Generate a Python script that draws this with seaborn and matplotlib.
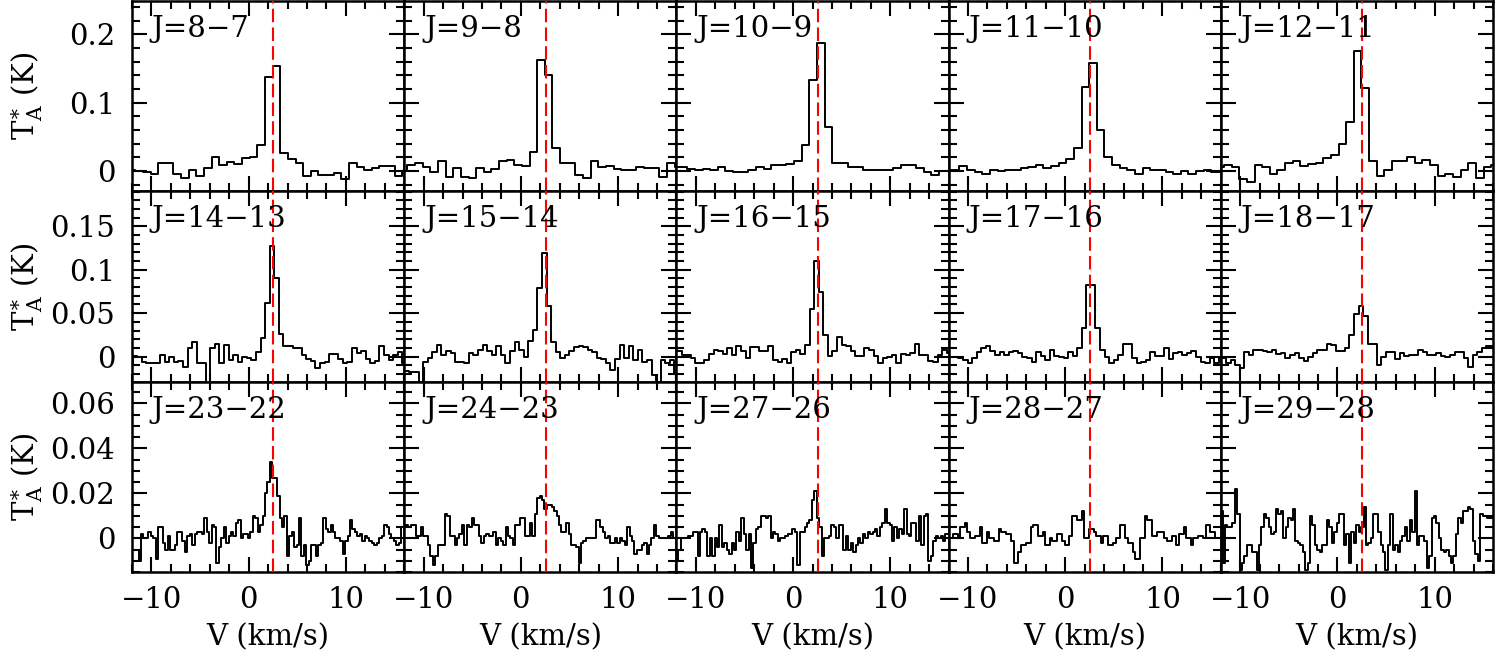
import numpy as np
import matplotlib
matplotlib.use("Agg")
import matplotlib.pyplot as plt
import seaborn as sns
from matplotlib.ticker import FixedLocator, MultipleLocator, FuncFormatter

# transition labels, one per panel (row by row)
labels = ["J=8\u22127", "J=9\u22128", "J=10\u22129", "J=11\u221210", "J=12\u221211",
          "J=14\u221213", "J=15\u221214", "J=16\u221215", "J=17\u221216", "J=18\u221217",
          "J=23\u221222", "J=24\u221223", "J=27\u221226", "J=28\u221227", "J=29\u221228"]

v_lsr = 2.55

# channel grid per row: first channel edge (km/s) and channel width
row_v0 = [-12.45, -12.40, -12.32]
row_dv = [0.785, 0.47, 0.25]

# T_A* (K) per channel
j8_7 = [0.001, 0.000, -0.001, -0.004, 0.011, 0.011, -0.004, -0.010, 0.002, -0.007,
        0.004, 0.020, 0.009, 0.013, 0.010, 0.019, 0.021, 0.038, 0.138, 0.153,
        0.026, 0.017, 0.012, -0.007, 0.000, -0.006, -0.006, -0.003, -0.012, 0.011,
        0.005, 0.001, 0.004, 0.007, 0.007, -0.007, 0.000]
j9_8 = [0.000, 0.009, 0.011, 0.005, -0.002, 0.014, -0.009, 0.004, -0.009, -0.010,
        0.004, -0.002, 0.003, 0.015, 0.016, 0.009, 0.007, 0.028, 0.162, 0.140,
        0.033, 0.012, 0.012, -0.006, -0.010, 0.015, 0.006, 0.007, 0.003, 0.002,
        0.002, 0.006, 0.004, 0.004, -0.009, 0.012, 0.006]
j10_9 = [0.006, 0.005, 0.003, 0.002, 0.003, 0.002, 0.005, 0.000, -0.001, -0.001,
         0.001, 0.005, 0.003, 0.009, 0.009, 0.010, 0.015, 0.038, 0.133, 0.187,
         0.065, 0.012, 0.011, 0.006, 0.005, 0.002, 0.002, 0.002, 0.002, 0.004,
         0.009, 0.009, 0.004, -0.001, -0.006, 0.000, 0.000]
j11_10 = [0.001, 0.002, 0.007, 0.002, -0.002, -0.004, 0.002, 0.000, 0.002, 0.001,
          0.004, 0.005, 0.008, 0.004, 0.007, 0.011, 0.017, 0.033, 0.123, 0.158,
          0.060, 0.020, 0.009, 0.004, 0.001, -0.004, 0.004, 0.002, 0.001, -0.001,
          -0.004, 0.000, -0.005, 0.000, 0.002, -0.002, -0.001]
j12_11 = [0.006, 0.009, 0.005, -0.012, -0.017, 0.009, 0.006, -0.004, 0.002, 0.011,
          0.015, 0.007, 0.010, 0.011, 0.019, 0.023, 0.039, 0.071, 0.175, 0.122,
          0.015, -0.007, 0.002, 0.015, 0.014, 0.020, 0.011, 0.016, 0.009, -0.007,
          -0.004, -0.009, 0.002, 0.011, -0.010, 0.005, 0.008]

j14_13 = [-0.008, 0.001, -0.001, -0.006, -0.008, -0.007, -0.007, 0.002, -0.006, 0.000,
          -0.006, -0.005, -0.012, 0.010, 0.017, -0.007, -0.007, -0.035, 0.010, 0.015,
          -0.007, 0.013, -0.004, 0.002, -0.006, 0.000, -0.002, -0.004, 0.005, 0.021,
          0.062, 0.128, 0.091, 0.026, 0.012, 0.012, 0.010, 0.010, 0.002, -0.003,
          -0.005, -0.013, -0.008, -0.006, 0.003, 0.003, -0.003, -0.008, -0.006, 0.010,
          0.004, 0.006, -0.003, -0.007, -0.005, 0.012, 0.002, -0.004, 0.002, 0.005,
          -0.008]
j15_14 = [-0.017, -0.017, -0.018, -0.018, -0.035, -0.006, -0.002, 0.005, 0.013, 0.002,
          0.006, 0.004, -0.006, -0.006, -0.008, 0.004, 0.002, 0.008, 0.013, 0.006,
          0.002, 0.012, 0.002, -0.007, 0.006, 0.017, 0.007, 0.000, 0.018, 0.031,
          0.079, 0.119, 0.058, 0.017, 0.005, -0.002, 0.002, 0.006, 0.011, 0.012,
          0.011, 0.007, 0.005, -0.002, -0.003, -0.008, -0.016, -0.003, 0.013, -0.002,
          0.012, -0.004, 0.007, -0.006, -0.004, -0.021, -0.035, -0.004, -0.008, -0.004,
          -0.019]
j16_15 = [0.008, 0.006, 0.002, 0.002, -0.002, -0.008, -0.008, -0.004, 0.003, 0.007,
          0.006, 0.003, 0.010, 0.002, 0.012, 0.006, -0.002, 0.011, 0.011, 0.006,
          0.006, 0.012, -0.004, -0.006, -0.003, -0.008, 0.005, 0.008, 0.003, 0.013,
          0.055, 0.110, 0.074, 0.025, 0.001, 0.006, 0.022, 0.013, 0.012, 0.006,
          0.001, 0.001, 0.010, 0.007, 0.001, -0.008, -0.002, 0.000, 0.002, -0.008,
          0.003, 0.002, 0.004, 0.015, 0.002, 0.002, -0.005, -0.006, 0.002, 0.008,
          0.004]
j17_16 = [0.000, 0.000, -0.001, -0.002, -0.004, -0.008, -0.002, 0.005, 0.010, 0.012,
          0.006, 0.002, 0.005, 0.002, 0.005, 0.006, 0.004, 0.000, -0.002, -0.006,
          0.005, 0.001, -0.004, 0.008, 0.001, 0.000, -0.002, 0.005, 0.001, 0.010,
          0.033, 0.082, 0.082, 0.033, 0.008, 0.000, -0.008, -0.004, 0.002, 0.015,
          0.015, -0.002, -0.008, -0.006, -0.004, 0.005, 0.001, 0.001, 0.010, -0.003,
          0.004, 0.005, 0.002, 0.004, 0.006, 0.000, -0.006, -0.008, -0.002, -0.008,
          -0.002]
j18_17 = [-0.002, -0.002, -0.008, -0.004, -0.010, -0.013, 0.005, 0.002, 0.007, 0.007,
          0.006, 0.005, 0.007, 0.003, 0.004, -0.002, 0.002, 0.004, -0.002, -0.005,
          0.000, 0.004, 0.007, 0.007, 0.015, 0.013, 0.006, 0.006, 0.010, 0.025,
          0.049, 0.058, 0.047, 0.015, 0.015, -0.010, -0.001, 0.005, 0.005, -0.003,
          0.004, 0.001, 0.002, 0.002, 0.007, 0.005, 0.002, 0.002, 0.004, 0.001,
          0.000, 0.002, 0.005, 0.005, -0.002, -0.012, 0.002, 0.005, 0.010, 0.012,
          0.012]

j23_22 = [-0.005, -0.005, -0.005, -0.005, -0.010, 0.002, 0.000, 0.000, 0.003, 0.001,
          0.000, -0.009, 0.005, 0.005, -0.002, -0.005, 0.001, -0.005, -0.005, -0.003,
          0.003, 0.003, -0.001, -0.006, 0.001, 0.002, -0.003, 0.002, 0.003, 0.003,
          0.002, 0.009, 0.003, -0.002, 0.006, 0.005, -0.011, -0.004, 0.000, 0.005,
          -0.002, 0.001, 0.003, 0.001, 0.007, 0.008, 0.000, 0.002, 0.002, 0.000,
          0.003, 0.010, 0.009, 0.003, 0.006, 0.010, 0.020, 0.025, 0.034, 0.027,
          0.027, 0.019, 0.009, 0.005, 0.010, -0.008, 0.001, 0.003, -0.004, -0.003,
          0.009, -0.008, -0.003, -0.012, -0.010, -0.003, -0.003, -0.008, -0.003, -0.002,
          0.009, 0.004, 0.003, 0.006, 0.003, 0.000, 0.000, -0.001, -0.007, -0.001,
          0.001, 0.008, 0.004, 0.003, 0.001, 0.002, -0.001, 0.001, 0.000, -0.001,
          -0.002, -0.003, -0.002, 0.000, 0.001, 0.006, 0.005, 0.002, 0.000, -0.001,
          -0.003, -0.002, 0.005, 0.005]
j24_23 = [0.006, 0.006, 0.006, 0.005, 0.006, 0.006, 0.001, 0.001, 0.005, 0.001,
          0.001, -0.003, -0.008, -0.012, -0.008, -0.003, -0.003, -0.003, 0.011, 0.010,
          0.001, 0.001, -0.003, 0.000, 0.002, 0.006, -0.003, 0.006, 0.005, 0.009,
          0.006, 0.006, 0.001, -0.002, 0.001, 0.002, 0.001, 0.001, 0.003, -0.003,
          0.000, -0.001, -0.003, 0.005, 0.001, 0.000, -0.003, 0.006, 0.006, 0.009,
          0.009, 0.001, 0.001, 0.007, 0.001, 0.011, 0.018, 0.019, 0.017, 0.013,
          0.015, 0.015, 0.014, 0.012, 0.010, 0.006, 0.003, 0.003, 0.007, 0.002,
          -0.003, -0.003, -0.004, -0.011, -0.002, -0.001, 0.000, 0.000, 0.000, 0.000,
          0.008, 0.008, 0.005, 0.003, 0.000, 0.001, -0.002, -0.002, 0.000, -0.002,
          0.000, -0.001, -0.003, 0.005, 0.001, -0.001, -0.007, -0.005, -0.005, -0.003,
          -0.002, -0.007, -0.003, 0.000, 0.006, 0.001, 0.000, 0.000, 0.000, 0.000,
          0.001, 0.003, 0.000, 0.000]
j27_26 = [-0.010, -0.010, -0.005, 0.000, 0.000, 0.000, 0.001, 0.001, 0.003, 0.003,
          -0.008, 0.003, 0.004, 0.003, -0.008, 0.000, -0.008, 0.000, -0.004, 0.006,
          -0.004, -0.002, -0.005, -0.007, -0.002, -0.005, 0.003, -0.001, 0.009, 0.002,
          -0.005, 0.002, -0.013, -0.002, 0.004, 0.005, 0.010, 0.010, 0.009, 0.010,
          0.000, 0.003, 0.002, -0.001, 0.000, 0.000, 0.001, 0.002, 0.002, 0.004,
          0.003, -0.012, 0.003, 0.003, 0.005, 0.007, 0.008, 0.017, 0.021, 0.009,
          0.005, -0.008, 0.000, 0.000, 0.001, 0.006, 0.005, 0.000, 0.006, 0.006,
          -0.005, 0.001, -0.005, -0.002, -0.006, -0.003, 0.000, -0.002, 0.002, 0.000,
          0.003, 0.002, 0.003, 0.004, 0.001, 0.005, 0.007, 0.013, 0.007, 0.006,
          -0.001, 0.005, 0.000, 0.004, 0.002, 0.013, 0.002, 0.001, 0.007, 0.007,
          -0.001, 0.010, -0.003, 0.010, 0.011, -0.010, -0.008, -0.001, 0.001, 0.000,
          0.001, -0.001, 0.002, 0.002]
j28_27 = [0.000, 0.000, 0.000, 0.002, 0.002, 0.000, 0.005, 0.005, 0.007, 0.003,
          0.000, 0.000, 0.001, 0.001, 0.005, -0.002, -0.002, 0.003, 0.000, 0.000,
          -0.001, -0.001, 0.004, 0.003, 0.003, 0.002, 0.002, -0.001, -0.011, -0.011,
          -0.006, -0.003, -0.003, -0.002, -0.002, 0.005, 0.006, 0.006, 0.001, 0.001,
          0.003, -0.003, -0.003, 0.000, -0.001, -0.001, 0.002, 0.002, -0.001, -0.003,
          -0.003, 0.001, 0.010, 0.010, 0.008, 0.008, 0.012, 0.000, 0.000, 0.004,
          0.004, 0.003, 0.001, 0.001, -0.002, 0.001, 0.001, -0.003, -0.003, -0.002,
          0.000, 0.000, 0.006, 0.006, 0.000, -0.002, -0.002, -0.006, -0.009, -0.009,
          0.000, 0.000, 0.010, 0.008, 0.008, 0.001, 0.001, 0.003, 0.003, 0.003,
          0.000, -0.001, -0.001, 0.001, 0.001, -0.003, 0.002, 0.002, 0.005, 0.000,
          0.000, -0.003, 0.000, 0.000, 0.001, 0.001, 0.000, 0.006, 0.006, 0.003,
          0.003, 0.000, 0.000, 0.000]
j29_28 = [0.012, 0.012, -0.011, 0.006, 0.005, 0.005, 0.007, 0.022, 0.011, -0.014,
          -0.011, -0.008, -0.003, -0.003, -0.006, -0.006, -0.014, -0.003, 0.005, 0.011,
          0.009, 0.005, 0.002, 0.003, 0.013, 0.011, 0.012, 0.000, 0.005, 0.009,
          0.008, 0.013, -0.001, -0.002, -0.003, -0.006, -0.014, -0.011, 0.010, 0.006,
          -0.003, -0.005, -0.006, -0.003, -0.003, 0.008, 0.005, -0.002, 0.003, 0.007,
          0.011, 0.011, -0.003, 0.002, -0.011, 0.003, -0.002, 0.006, 0.003, 0.005,
          0.014, -0.003, -0.002, 0.000, 0.011, 0.011, 0.003, -0.003, -0.006, -0.014,
          -0.003, 0.011, -0.005, -0.003, -0.006, -0.001, 0.001, 0.005, -0.001, 0.008,
          0.003, 0.021, -0.003, 0.001, 0.001, -0.001, -0.013, -0.008, 0.009, 0.010,
          0.007, 0.000, -0.005, -0.006, -0.005, -0.008, -0.011, -0.008, 0.002, 0.009,
          0.007, 0.012, 0.012, 0.014, 0.013, -0.001, -0.007, -0.010, 0.011, 0.010,
          0.010, 0.009, 0.009, 0.009]

spectra = [j8_7, j9_8, j10_9, j11_10, j12_11,
           j14_13, j15_14, j16_15, j17_16, j18_17,
           j23_22, j24_23, j27_26, j28_27, j29_28]

row_ylim = [(-0.030, 0.249), (-0.029, 0.1905), (-0.015, 0.0696)]
row_major = [[0, 0.1, 0.2], [0, 0.05, 0.1, 0.15], [0, 0.02, 0.04, 0.06]]
row_minor = [0.02, 0.01, 0.005]

sns.set_style("ticks")
plt.rcParams['font.family'] = ['DejaVu Serif']
plt.rcParams['mathtext.fontset'] = 'dejavuserif'
for key in ['text.color', 'axes.labelcolor', 'xtick.color', 'ytick.color', 'axes.edgecolor']:
    plt.rcParams[key] = 'black'

W, H = 1495, 659
fig, axes = plt.subplots(3, 5, figsize=(W / 100, H / 100), dpi=100,
                         sharex=True, sharey='row')
fig.subplots_adjust(left=132 / W, right=1493 / W, top=1 - 1 / H,
                    bottom=1 - 572 / H, wspace=0, hspace=0)

fs = 21
for i, ax in enumerate(axes.flat):
    r, c = divmod(i, 5)
    vals = np.array(spectra[i])
    vel = row_v0[r] + row_dv[r] * (np.arange(len(vals)) + 0.5)
    sns.lineplot(x=vel, y=vals, ax=ax, color='black', lw=1.4,
                 drawstyle='steps-mid', estimator=None, errorbar=None)
    ax.axvline(v_lsr, color='red', lw=1.5, dashes=(6.5, 2.5), zorder=3)

    ax.set_xlim(-12, 16)
    ax.set_ylim(*row_ylim[r])
    ax.xaxis.set_major_locator(FixedLocator([-10, 0, 10]))
    ax.xaxis.set_minor_locator(MultipleLocator(2))
    ax.yaxis.set_major_locator(FixedLocator(row_major[r]))
    ax.yaxis.set_minor_locator(MultipleLocator(row_minor[r]))
    ax.xaxis.set_major_formatter(FuncFormatter(lambda v, p: ('%d' % round(v)).replace('-', '\u2212')))
    ax.yaxis.set_major_formatter(FuncFormatter(lambda v, p: '%g' % round(v, 4)))

    ax.tick_params(which='both', direction='in', top=True, right=True,
                   width=1.5, color='black', labelcolor='black', labelsize=fs)
    ax.tick_params(which='major', length=11)
    ax.tick_params(which='minor', length=6)
    ax.tick_params(axis='y', pad=12)
    ax.tick_params(axis='x', pad=10)
    for s in ax.spines.values():
        s.set_linewidth(1.8)
        s.set_color('black')
    ax.set_xlabel('')
    ax.set_ylabel('')

    ax.text(0.073, 0.853, labels[i], transform=ax.transAxes, fontsize=fs,
            ha='left', va='center', color='black')

    if c == 0:
        ax.text((27 - 132) / 272.2, 0.5, r'$\mathrm{T}_\mathrm{A}^{\ast}$ (K)',
                transform=ax.transAxes, rotation=90, fontsize=fs,
                ha='center', va='center', color='black')
    if r == 2:
        ax.text(0.5, (572 - 638) / 192.0, 'V (km/s)', transform=ax.transAxes,
                fontsize=fs, ha='center', va='center', color='black')

fig.savefig('out.png', dpi=100)
